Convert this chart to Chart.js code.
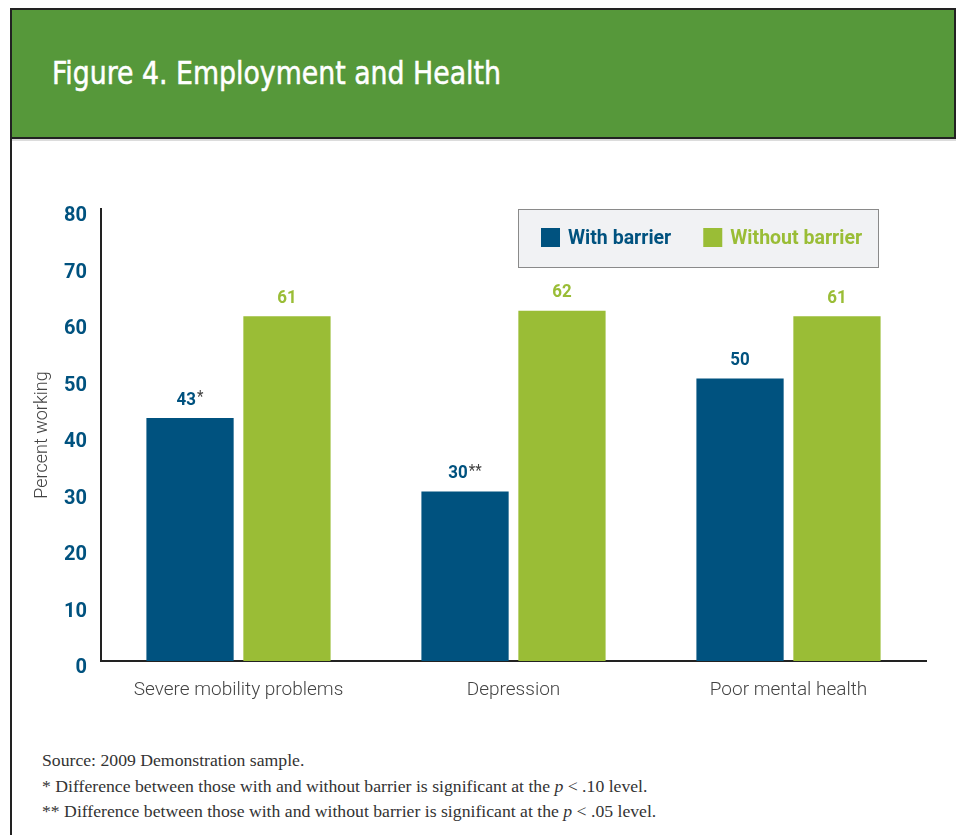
<!DOCTYPE html>
<html>
<head>
<meta charset="utf-8">
<script src="https://cdn.jsdelivr.net/npm/chart.js@4.4.1/dist/chart.umd.min.js"></script>
<style>
  html, body { margin:0; padding:0; background:#ffffff; }
  body { width:956px; height:835px; position:relative; overflow:hidden; }
  #frameLeft { position:absolute; left:10px; top:8px; width:2px; height:827px; background:#222; }
  #header { position:absolute; left:10px; top:8px; width:942px; height:127px; background:#56983a;
            border:2px solid #222; }
  #headerShadow { position:absolute; left:12px; top:139px; width:944px; height:2px; background:#dcdcdc; }
  #title { position:absolute; left:52px; top:54px; color:#fff; font-family:'DejaVu Sans Condensed','DejaVu Sans',sans-serif;
           font-size:32px; white-space:nowrap; transform:scaleX(0.93); transform-origin:0 0;
           -webkit-text-stroke:0.5px #fff; }
  #notes { position:absolute; left:42px; top:749px; font-family:'Liberation Serif','DejaVu Serif',serif; font-size:17.7px; color:#333; }
  #notes div { height:25.7px; line-height:22px; white-space:nowrap; }
  canvas { position:absolute; left:0; top:0; }
</style>
</head>
<body>
<div id="header"></div>
<div id="frameLeft"></div>
<div id="headerShadow"></div>
<div id="title">Figure 4. Employment and Health</div>
<div id="notes">
  <div>Source: 2009 Demonstration sample.</div>
  <div>* Difference between those with and without barrier is significant at the <i>p</i> &lt; .10 level.</div>
  <div>** Difference between those with and without barrier is significant at the <i>p</i> &lt; .05 level.</div>
</div>
<canvas id="c" width="956" height="835"></canvas>
<script>
const categories = ['Severe mobility problems', 'Depression', 'Poor mental health'];
const withBarrier = [43, 30, 50];
const withoutBarrier = [61, 62, 61];
const withBarrierNotes = ['*', '**', ''];
const withoutBarrierNotes = ['', '', ''];
const seriesNames = ['With barrier', 'Without barrier'];
const yTickValues = [0, 10, 20, 30, 40, 50, 60, 70, 80];

const BLUE = '#00527f';
const GREEN = '#9abd36';
const sans = "Roboto,'DejaVu Sans Condensed',sans-serif";

const labelPlugin = {
  id: 'barLabels',
  afterDatasetsDraw(chart) {
    const ctx = chart.ctx;
    ctx.save();
    chart.data.datasets.forEach((ds, di) => {
      const meta = chart.getDatasetMeta(di);
      meta.data.forEach((bar, i) => {
        const val = String(ds.data[i]);
        const note = ds.notes[i] || '';
        const sx = 0.94;
        ctx.font = 'bold 18px ' + sans;
        const w1 = ctx.measureText(val).width * sx;
        ctx.font = '16px ' + sans;
        const w2 = ctx.measureText(note).width * sx;
        const total = w1 + (note ? w2 + 1 : 0);
        const x0 = bar.x - total / 2;
        const y = bar.y - 9;
        ctx.save();
        ctx.translate(x0, y);
        ctx.scale(sx, 1);
        ctx.textBaseline = 'bottom';
        ctx.textAlign = 'left';
        ctx.fillStyle = ds.labelColor;
        ctx.font = 'bold 18px ' + sans;
        ctx.fillText(val, 0, 0);
        if (note) {
          ctx.fillStyle = '#444';
          ctx.font = '16px ' + sans;
          ctx.fillText(note, (w1 + 1) / sx, -3);
        }
        ctx.restore();
      });
    });
    ctx.restore();
  }
};

const legendPlugin = {
  id: 'boxLegend',
  afterDraw(chart) {
    const ctx = chart.ctx;
    const ca = chart.chartArea;
    const bw = 361, bh = 59;
    const bx = ca.right - 47 - bw, by = ca.top;
    ctx.save();
    ctx.fillStyle = '#f1f2f4';
    ctx.fillRect(bx, by, bw, bh);
    ctx.strokeStyle = '#8a8a8a';
    ctx.lineWidth = 1;
    ctx.strokeRect(bx + 0.5, by + 0.5, bw - 1, bh - 1);
    let x = bx + 23;
    const cy = by + 29;
    const sx = 0.93;
    ctx.font = 'bold 21px ' + sans;
    ctx.textBaseline = 'middle';
    ctx.textAlign = 'left';
    chart.data.datasets.forEach((ds) => {
      ctx.fillStyle = ds.backgroundColor;
      ctx.fillRect(x, cy - 10, 19, 19);
      ctx.fillStyle = ds.labelColor;
      ctx.save();
      ctx.translate(x + 27, cy + 1);
      ctx.scale(sx, 1);
      ctx.fillText(ds.label, 0, 0);
      ctx.restore();
      x += 27 + ctx.measureText(ds.label).width * sx + 32;
    });
    ctx.restore();
  }
};

new Chart(document.getElementById('c'), {
  type: 'bar',
  data: {
    labels: categories,
    datasets: [
      { label: seriesNames[0], data: withBarrier, notes: withBarrierNotes, backgroundColor: BLUE, labelColor: BLUE,
        categoryPercentage: 0.705, barPercentage: 0.9 },
      { label: seriesNames[1], data: withoutBarrier, notes: withoutBarrierNotes, backgroundColor: GREEN, labelColor: GREEN,
        categoryPercentage: 0.705, barPercentage: 0.9 }
    ]
  },
  options: {
    responsive: false,
    animation: false,
    devicePixelRatio: 1,
    layout: { padding: { left: 28, right: 30, top: 209, bottom: 124 } },
    plugins: { legend: { display: false }, tooltip: { enabled: false } },
    scales: {
      x: {
        grid: { display: false, drawTicks: false },
        border: { display: true, color: '#222', width: 2 },
        ticks: { color: '#444', font: { family: sans, size: 19, weight: 300 }, padding: 18 },
        afterFit(s) { s.height = 50; }
      },
      y: {
        min: 0, max: 80,
        afterBuildTicks(s) { s.ticks = yTickValues.map(v => ({ value: v })); },
        grid: { display: false, drawTicks: false },
        border: { display: true, color: '#222', width: 2 },
        ticks: { color: BLUE, font: { family: sans, size: 20, weight: 'bold' }, padding: 14, labelOffset: 7 },
        title: { display: true, text: 'Percent working', color: '#444', font: { family: sans, size: 18, weight: 300 }, padding: { top: 4, bottom: 0 } },
        afterFit(s) { s.width = 73; }
      }
    }
  },
  plugins: [labelPlugin, legendPlugin]
});
</script>
</body>
</html>
